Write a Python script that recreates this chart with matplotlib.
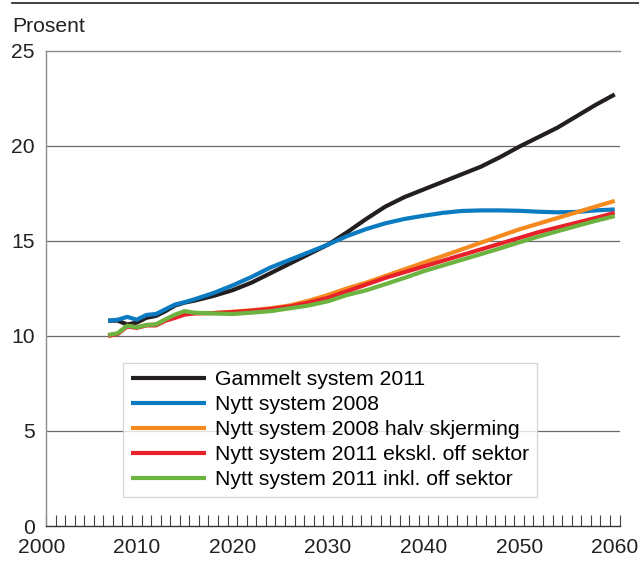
import matplotlib
matplotlib.use("Agg")
import matplotlib.pyplot as plt
from matplotlib.lines import Line2D
import numpy as np

plt.rcParams['font.family'] = ['Liberation Sans', 'DejaVu Sans']

# data (percent)
years = [2007, 2008, 2009, 2010, 2011, 2012, 2013, 2014, 2015, 2016,
         2018, 2020, 2022, 2024, 2026, 2028, 2030, 2032, 2034, 2036,
         2038, 2040, 2042, 2044, 2046, 2048, 2050, 2052, 2054, 2056,
         2058, 2060]

gammelt_2011 = [10.8, 10.8, 10.6, 10.7, 10.95, 11.05, 11.3, 11.6, 11.75, 11.85,
                12.1, 12.4, 12.8, 13.3, 13.8, 14.3, 14.8, 15.45, 16.15, 16.8,
                17.3, 17.7, 18.1, 18.5, 18.9, 19.4, 19.95, 20.45, 20.95, 21.55,
                22.15, 22.7]
nytt_2008 = [10.8, 10.85, 11.0, 10.85, 11.1, 11.15, 11.4, 11.65, 11.77, 11.92,
             12.25, 12.65, 13.1, 13.6, 14.0, 14.4, 14.8, 15.25, 15.62, 15.92,
             16.15, 16.32, 16.47, 16.57, 16.6, 16.6, 16.58, 16.53, 16.5, 16.52,
             16.6, 16.65]
nytt_2008_halv = [10.0, 10.12, 10.52, 10.45, 10.57, 10.6, 10.85, 11.0, 11.15, 11.2,
                  11.2, 11.27, 11.35, 11.45, 11.6, 11.85, 12.15, 12.5, 12.8, 13.15,
                  13.5, 13.85, 14.2, 14.55, 14.9, 15.25, 15.6, 15.9, 16.2, 16.5,
                  16.8, 17.1]
nytt_2011_ekskl = [10.0, 10.1, 10.5, 10.42, 10.55, 10.55, 10.8, 10.95, 11.12, 11.18,
                   11.2, 11.25, 11.32, 11.42, 11.55, 11.75, 12.0, 12.35, 12.7, 13.05,
                   13.35, 13.65, 13.95, 14.25, 14.55, 14.85, 15.15, 15.45, 15.7, 15.95,
                   16.2, 16.47]
nytt_2011_inkl = [10.05, 10.14, 10.54, 10.45, 10.57, 10.6, 10.87, 11.12, 11.3, 11.22,
                  11.18, 11.15, 11.22, 11.3, 11.45, 11.6, 11.82, 12.15, 12.4, 12.72,
                  13.05, 13.4, 13.7, 14.0, 14.3, 14.6, 14.92, 15.22, 15.5, 15.78,
                  16.05, 16.3]

series = [
    ("Gammelt system 2011", gammelt_2011, "#231f20"),
    ("Nytt system 2008", nytt_2008, "#0b7bc1"),
    ("Nytt system 2008 halv skjerming", nytt_2008_halv, "#f58a1f"),
    ("Nytt system 2011 ekskl. off sektor", nytt_2011_ekskl, "#e8202a"),
    ("Nytt system 2011 inkl. off sektor", nytt_2011_inkl, "#6cb33f"),
]

yticks = [0, 5, 10, 15, 20, 25]
xlabels = [2000, 2010, 2020, 2030, 2040, 2050, 2060]

FS = 15.2

fig = plt.figure(figsize=(6.39, 5.61), dpi=100)
ax = fig.add_axes([46 / 639, 1 - 526 / 561, (619.5 - 46) / 639, (526 - 50.7) / 561])

for label, vals, col in series:
    ax.plot(years, vals, color=col, lw=3.0, label=label, solid_capstyle='butt')

ax.set_xlim(2000.5, 2060.5)
ax.set_ylim(0, 25)

# horizontal grid lines
for v in yticks[1:-1]:
    ax.axhline(v, color='#6a6a6a', lw=0.9, zorder=0)

ax.spines['right'].set_visible(False)
ax.spines['top'].set_color('#8a8a8a')
ax.spines['left'].set_color('#8a8a8a')
ax.spines['bottom'].set_color('#333333')
for s in ['top', 'left', 'bottom']:
    ax.spines[s].set_linewidth(1.0)

# yearly tick marks pointing up
ax.set_xticks(np.arange(2000.5, 2061, 1.0))
ax.set_xticklabels([])
ax.tick_params(axis='x', direction='in', length=7.6, width=0.8, color='#444444')

ax.set_yticks(yticks)
ax.set_yticklabels([str(v) for v in yticks], fontsize=FS, color='#222222')
ax.tick_params(axis='y', length=0, pad=8)

xt = ax.get_xaxis_transform()
for yr in xlabels:
    ax.text(yr, -0.025, str(yr), transform=xt, ha='center', va='top',
            fontsize=FS, color='#222222', clip_on=False)

leg = ax.legend(loc='upper left', bbox_to_anchor=(123.3 / 639, 1 - 362.7 / 561),
                bbox_transform=fig.transFigure, fontsize=FS, frameon=True,
                fancybox=False, borderaxespad=0, handlelength=3.55,
                handletextpad=0.45, labelspacing=0.28, borderpad=0.36)
leg.get_frame().set_edgecolor('#cccccc')
leg.get_frame().set_linewidth(0.9)
for line in leg.get_lines():
    line.set_linewidth(3.0)

fig.text(12.7 / 639, 1 - 31.7 / 561, "Prosent", fontsize=FS, ha='left',
         va='baseline', color='#222222')
fig.add_artist(Line2D([12 / 639, 1], [1 - 2.7 / 561, 1 - 2.7 / 561],
                      color='#231f20', lw=1.2))

fig.savefig("out.png", dpi=100)
